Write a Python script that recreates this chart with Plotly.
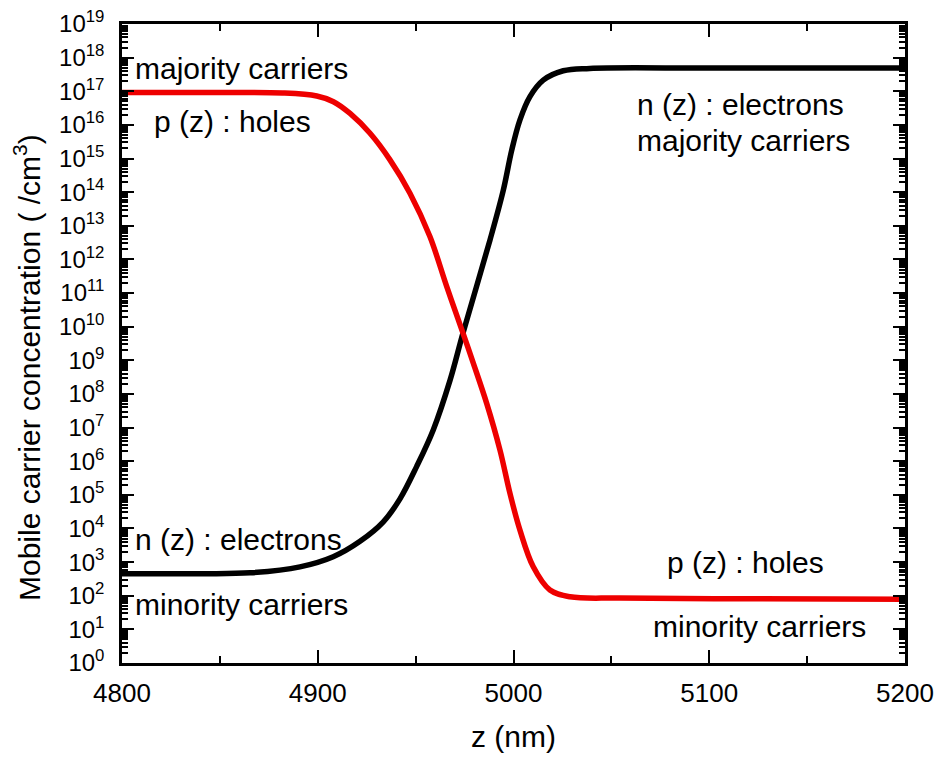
import plotly.graph_objects as go

# Electron concentration n(z)  (/cm^3)
z_n = [4800, 4840, 4865.4, 4890.9, 4907.9, 4921.6, 4933.5, 4942, 4950.5, 4959, 4967.6,
       4974.2, 4988.0, 4994.8, 4999.1, 5003.3, 5008.4, 5015.2, 5025.4, 5039, 5100, 5200]
n_vals = [447, 452, 479, 724, 1.45e3, 4.17e3, 1.58e4, 7.59e4, 6.92e5, 8.51e6, 2.57e8,
          6.46e9, 3.80e12, 1.15e14, 1.78e15, 1.41e16, 6.92e16, 2.14e17, 4.07e17, 4.79e17,
          4.90e17, 4.90e17]

# Hole concentration p(z)  (/cm^3)
z_p = [4800, 4840, 4882, 4899.5, 4908, 4916.5, 4926.7, 4936.9, 4947.1, 4957.3, 4965.9,
       4974.2, 4979.5, 4986.3, 4993.1, 4998.2, 5003.3, 5010.1, 5018.6, 5028.9, 5054, 5120, 5200]
p_vals = [9.12e16, 9.12e16, 8.91e16, 7.23e16, 4.90e16, 2.19e16, 5.62e15, 9.12e14,
          9.33e13, 4.79e12, 1.55e11, 6.46e9, 8.13e8, 5.25e7, 2.14e6, 1.10e5, 8.91e3, 724,
          148, 93, 85, 81, 79]

x_ticks = [4800, 4900, 5000, 5100, 5200]
y_exponents = list(range(0, 20))
y_tickvals = [10 ** e for e in y_exponents]
y_ticktext = ["10<sup>%d</sup>" % e for e in y_exponents]

labels = [
    # text, z, log10(concentration)
    ("majority carriers", 4805.6, 17.69),
    ("p (z) : holes", 4815.3, 16.09),
    ("n (z) : electrons", 5062.0, 16.6),
    ("majority carriers", 5062.0, 15.55),
    ("n (z) : electrons", 4805.6, 3.66),
    ("minority carriers", 4805.6, 1.75),
    ("p (z) : holes", 5077.4, 3.0),
    ("minority carriers", 5070.3, 1.10),
]

FONT = "Arial, Liberation Sans, sans-serif"

fig = go.Figure()
fig.add_trace(go.Scatter(x=z_n, y=n_vals, mode="lines",
                         line=dict(color="black", width=5.5, shape="spline", smoothing=1.0),
                         name="n(z)", showlegend=False))
fig.add_trace(go.Scatter(x=z_p, y=p_vals, mode="lines",
                         line=dict(color="#ee0000", width=5.5, shape="spline", smoothing=1.0),
                         name="p(z)", showlegend=False))

for text, zx, ly in labels:
    fig.add_annotation(x=zx, y=ly, text=text, showarrow=False, xanchor="left", yanchor="middle",
                       font=dict(family=FONT, size=30, color="black"))

# y-axis title placed as a rotated annotation (centred like the reference)
fig.add_annotation(xref="paper", yref="paper", x=-0.121, y=0.462,
                   text="Mobile carrier concentration ( /cm<sup>3</sup>)", textangle=-90,
                   showarrow=False, xanchor="center", yanchor="middle",
                   font=dict(family=FONT, size=30, color="black"))

fig.update_layout(
    width=935, height=758,
    margin=dict(l=122, r=30, t=24, b=95),
    paper_bgcolor="white", plot_bgcolor="white",
    font=dict(family=FONT, color="black"),
    showlegend=False,
)
fig.update_xaxes(
    range=[4800, 5200], tickvals=x_ticks, ticks="inside", ticklen=13, tickwidth=2, tickcolor="black",
    minor=dict(ticks="inside", ticklen=7, tickwidth=2, tickcolor="black", dtick=50, tick0=4800),
    showline=True, linewidth=2.5, linecolor="black", mirror="ticks", showgrid=False, zeroline=False,
    tickfont=dict(size=26, family=FONT), ticklabelstandoff=5, automargin=False,
    title=dict(text="z (nm)", font=dict(size=30, family=FONT), standoff=20),
)
fig.update_yaxes(
    type="log", range=[0, 19], tickvals=y_tickvals, ticktext=y_ticktext,
    ticks="inside", ticklen=12, tickwidth=2, tickcolor="black",
    minor=dict(ticks="inside", ticklen=6, tickwidth=1.5, tickcolor="black", dtick="D1"),
    showline=True, linewidth=2.5, linecolor="black", mirror="ticks", showgrid=False, zeroline=False,
    tickfont=dict(size=24, family=FONT), ticklabelstandoff=10, automargin=False,
)

fig.write_html("out.html")
